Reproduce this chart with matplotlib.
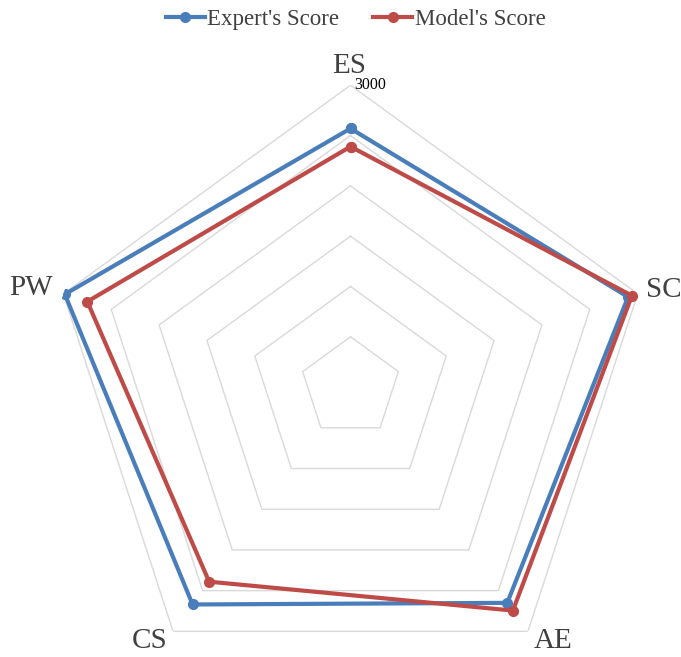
import numpy as np
import matplotlib
matplotlib.use("Agg")
import matplotlib.pyplot as plt

plt.rcParams['font.family'] = ['Liberation Serif', 'DejaVu Serif']

categories = ["ES", "SC", "AE", "CS", "PW"]
expert_scores = [2570, 2900, 2650, 2670, 2985]
model_scores = [2390, 2940, 2745, 2390, 2750]
grid_levels = [500, 1000, 1500, 2000, 2500, 3000]
r_max = 3000

blue = "#4A7EBB"
red = "#BE4B48"
grid_color = "#D9D9D9"
text_color = "#404040"

fig = plt.figure(figsize=(6.81, 6.57), dpi=100)
ax = fig.add_axes([0.0712, -0.0487, 0.887, 0.919], projection="polar")
ax.set_theta_offset(np.pi / 2)
ax.set_theta_direction(-1)
ax.set_ylim(0, r_max)
ax.grid(False)
ax.spines["polar"].set_visible(False)
ax.set_xticks([])
ax.set_yticks([])
ax.patch.set_alpha(0)

n = len(categories)
angles = np.linspace(0, 2 * np.pi, n, endpoint=False)
closed = np.concatenate([angles, angles[:1]])

# pentagonal grid rings
for lvl in grid_levels:
    ax.plot(closed, [lvl] * (n + 1), color=grid_color, lw=1.0, zorder=1)

def closed_vals(v):
    return list(v) + [v[0]]

ax.plot(closed, closed_vals(expert_scores), color=blue, lw=3.0, marker="o",
        markersize=7, label="Expert's Score", zorder=3)
ax.plot(closed, closed_vals(model_scores), color=red, lw=3.0, marker="o",
        markersize=7, label="Model's Score", zorder=4)

# category labels placed just outside each outer vertex (offsets in points)
label_offsets = {"ES": (-1, 14), "SC": (19, 3), "AE": (18, -7),
                 "CS": (-17, -7), "PW": (-23, 4)}
for ang, name in zip(angles, categories):
    ax.annotate(name, xy=(ang, r_max), xytext=label_offsets[name],
                textcoords="offset points", ha="center", va="center",
                fontsize=21, color=text_color, annotation_clip=False)

# scale maximum at the top vertex
ax.annotate(f"{r_max}", xy=(0, r_max), xytext=(3, 0), textcoords="offset points",
            ha="left", va="center", fontsize=11.5, color="black",
            annotation_clip=False)

fig.legend(loc="upper center", bbox_to_anchor=(0.522, 1.017), ncol=2, frameon=False,
           fontsize=16.5, handlelength=1.7, handletextpad=0.1, columnspacing=1.5,
           labelcolor=text_color)

fig.savefig("out.png", dpi=100)
